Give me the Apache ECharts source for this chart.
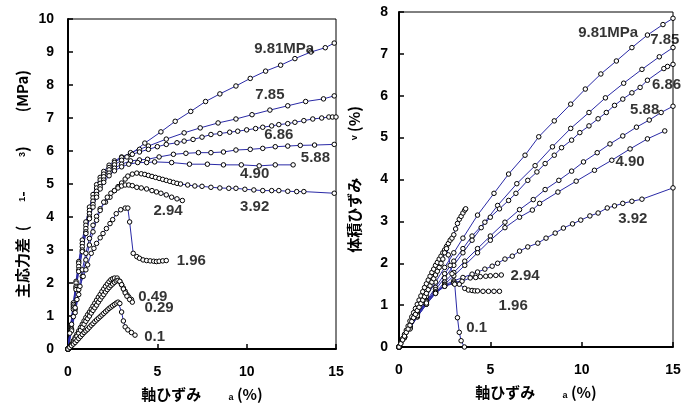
<!DOCTYPE html>
<html><head><meta charset="utf-8">
<script src="https://cdn.jsdelivr.net/npm/echarts@6/dist/echarts.min.js"></script>
<style>html,body{margin:0;padding:0;background:#fff}#c{width:690px;height:412px}</style>
</head><body><div id="c"></div>
<script>
// ---------- Left chart: deviator stress (MPa) vs axial strain (%) ----------
const s981 = [[0,0],[0.15,0.7],[0.3,1.4],[0.45,2.05],[0.6,2.65],[0.8,3.3],[1.0,3.85],[1.2,4.3],[1.4,4.68],[1.6,4.98],[1.8,5.2],[2.0,5.38],[2.3,5.57],[2.6,5.7],[3.0,5.82],[3.5,5.9],[4.3,6.24],[5.2,6.58],[6.0,6.9],[6.87,7.2],[7.7,7.5],[8.5,7.73],[9.4,7.97],[10.2,8.2],[11.06,8.42],[11.9,8.6],[12.7,8.8],[13.6,9.0],[14.4,9.13],[14.9,9.27]];
const s785 = [[0,0],[0.15,0.68],[0.3,1.35],[0.45,2.0],[0.6,2.6],[0.8,3.2],[1.0,3.75],[1.2,4.2],[1.4,4.58],[1.6,4.88],[1.8,5.12],[2.0,5.3],[2.3,5.5],[2.6,5.65],[3.0,5.8],[3.5,5.95],[4.0,6.05],[4.5,6.15],[5.5,6.36],[6.5,6.55],[7.4,6.7],[8.4,6.85],[9.4,6.97],[10.3,7.1],[11.3,7.24],[12.3,7.37],[13.3,7.5],[14.3,7.58],[14.9,7.67]];
const s686 = [[0,0],[0.15,0.65],[0.3,1.3],[0.45,1.9],[0.6,2.5],[0.8,3.1],[1.0,3.65],[1.2,4.1],[1.4,4.48],[1.6,4.78],[1.8,5.02],[2.0,5.22],[2.3,5.43],[2.6,5.58],[3.0,5.72],[3.3,5.82],[3.6,5.9],[4.0,5.97],[4.5,6.05],[5.0,6.13],[5.5,6.2],[6.1,6.25],[6.5,6.3],[7.0,6.35],[7.5,6.42],[8.0,6.5],[8.5,6.53],[9.05,6.57],[9.5,6.6],[10.0,6.64],[10.5,6.68],[10.9,6.72],[11.4,6.76],[11.8,6.8],[12.3,6.83],[12.7,6.87],[13.2,6.92],[13.7,6.97],[14.2,7.0],[14.6,7.03],[14.8,7.03],[15.0,7.03]];
const s588 = [[0,0],[0.15,0.62],[0.3,1.25],[0.45,1.85],[0.6,2.4],[0.8,3.0],[1.0,3.55],[1.2,4.0],[1.4,4.38],[1.6,4.68],[1.8,4.92],[2.0,5.12],[2.3,5.33],[2.6,5.48],[3.0,5.6],[3.5,5.7],[4.0,5.73],[4.45,5.75],[5.1,5.82],[5.9,5.9],[6.6,5.93],[7.3,5.95],[8.0,5.95],[8.7,5.97],[9.4,6.03],[10.2,6.05],[10.9,6.08],[11.6,6.13],[12.3,6.15],[13.0,6.17],[13.8,6.18],[14.9,6.2]];
const s490 = [[0,0],[0.15,0.6],[0.3,1.2],[0.45,1.8],[0.6,2.35],[0.8,2.95],[1.0,3.5],[1.2,3.95],[1.4,4.3],[1.6,4.6],[1.8,4.85],[2.0,5.05],[2.3,5.25],[2.6,5.4],[3.0,5.52],[3.4,5.6],[3.9,5.65],[4.4,5.65],[4.85,5.67],[5.8,5.65],[6.8,5.6],[7.8,5.6],[8.7,5.58],[9.7,5.58],[10.7,5.55],[11.6,5.58],[12.6,5.58]];
const s392 = [[0,0],[0.2,0.6],[0.4,1.2],[0.6,1.8],[0.8,2.4],[1.0,2.9],[1.2,3.35],[1.4,3.75],[1.6,4.02],[1.8,4.25],[2.1,4.45],[2.35,4.6],[2.6,4.8],[2.8,4.92],[3.0,5.03],[3.2,5.15],[3.35,5.24],[3.6,5.3],[3.85,5.33],[4.1,5.31],[4.3,5.29],[4.5,5.26],[4.7,5.23],[4.9,5.2],[5.1,5.17],[5.3,5.14],[5.5,5.11],[5.7,5.08],[5.9,5.05],[6.1,5.02],[6.3,5.0],[6.7,4.97],[7.1,4.94],[7.5,4.93],[8.0,4.9],[8.5,4.88],[9.0,4.87],[9.4,4.87],[9.9,4.84],[10.4,4.82],[10.9,4.8],[11.4,4.8],[11.8,4.8],[12.3,4.78],[12.8,4.77],[13.2,4.77],[14.9,4.72]];
const s294 = [[0,0],[0.2,0.55],[0.4,1.1],[0.6,1.65],[0.8,2.2],[1.0,2.7],[1.2,3.15],[1.4,3.55],[1.6,3.9],[1.8,4.2],[2.0,4.45],[2.2,4.6],[2.4,4.72],[2.6,4.8],[2.8,4.88],[3.0,4.94],[3.2,4.97],[3.4,4.97],[3.6,4.95],[3.85,4.9],[4.1,4.88],[4.4,4.85],[4.7,4.8],[4.95,4.76],[5.2,4.72],[5.5,4.67],[5.8,4.6],[6.1,4.55],[6.4,4.5]];
const s196 = [[0,0],[0.1,0.48],[0.2,0.75],[0.3,0.98],[0.4,1.25],[0.5,1.5],[0.67,1.9],[0.85,2.2],[1.0,2.4],[1.1,2.55],[1.3,2.9],[1.45,3.05],[1.6,3.2],[1.8,3.37],[1.96,3.5],[2.15,3.65],[2.35,3.8],[2.5,3.92],[2.7,4.1],[2.95,4.22],[3.2,4.27],[3.35,4.27],[3.45,3.85],[3.65,2.9],[3.85,2.8],[4.0,2.75],[4.2,2.7],[4.4,2.68],[4.6,2.67],[4.8,2.66],[4.95,2.65],[5.1,2.66],[5.3,2.67],[5.5,2.68]];
const s049 = [[0,0],[0.1,0.07],[0.2,0.15],[0.3,0.25],[0.4,0.35],[0.5,0.45],[0.6,0.55],[0.7,0.65],[0.8,0.75],[0.9,0.85],[1.0,0.95],[1.1,1.04],[1.2,1.12],[1.3,1.21],[1.4,1.3],[1.5,1.39],[1.6,1.48],[1.7,1.57],[1.8,1.65],[1.9,1.74],[2.0,1.82],[2.1,1.9],[2.2,1.97],[2.3,2.04],[2.4,2.1],[2.5,2.13],[2.6,2.15],[2.75,2.15],[2.9,2.05],[3.0,1.95],[3.1,1.85],[3.2,1.75],[3.3,1.65],[3.4,1.58],[3.55,1.5]];
const s029 = [[0,0],[0.1,0.06],[0.2,0.13],[0.3,0.21],[0.4,0.3],[0.5,0.39],[0.6,0.48],[0.7,0.57],[0.8,0.66],[0.9,0.75],[1.0,0.84],[1.1,0.92],[1.2,1.0],[1.3,1.09],[1.4,1.17],[1.5,1.25],[1.6,1.33],[1.7,1.42],[1.8,1.5],[1.9,1.58],[2.0,1.65],[2.1,1.73],[2.2,1.8],[2.3,1.86],[2.4,1.92],[2.5,1.97],[2.6,2.02],[2.7,2.06],[2.8,2.08],[2.9,2.05],[3.0,1.95],[3.1,1.82],[3.2,1.7],[3.3,1.6],[3.45,1.5],[3.6,1.42]];
const s010 = [[0,0],[0.1,0.05],[0.2,0.1],[0.3,0.15],[0.4,0.2],[0.5,0.26],[0.6,0.32],[0.7,0.38],[0.8,0.44],[0.9,0.5],[1.0,0.55],[1.1,0.6],[1.2,0.66],[1.3,0.72],[1.4,0.77],[1.5,0.83],[1.6,0.88],[1.7,0.93],[1.8,0.98],[1.9,1.03],[2.0,1.08],[2.1,1.13],[2.2,1.18],[2.3,1.23],[2.4,1.27],[2.5,1.31],[2.6,1.35],[2.7,1.39],[2.8,1.42],[2.9,1.38],[3.0,1.12],[3.1,0.85],[3.2,0.67],[3.35,0.58],[3.55,0.5],[3.75,0.42]];
const leftCurves = [s981, s785, s686, s588, s490, s392, s294, s196, s049, s029, s010];
const leftLabels = [[12.1,9.1,'9.81MPa'],[11.3,7.7,'7.85'],[11.8,6.5,'6.86'],[13.85,5.8,'5.88'],[10.45,5.3,'4.90'],[10.45,4.3,'3.92'],[5.6,4.18,'2.94'],[6.9,2.67,'1.96'],[4.75,1.58,'0.49'],[5.1,1.24,'0.29'],[4.85,0.36,'0.1']];

// ---------- Right chart: volumetric strain (%) vs axial strain (%) ----------
const v981 = [[0,0],[0.3,0.25],[0.6,0.5],[1.0,0.82],[1.5,1.2],[2.0,1.55],[2.5,1.9],[3.0,2.25],[3.5,2.6],[4.3,3.15],[5.2,3.67],[6.0,4.13],[6.9,4.58],[7.65,5.02],[8.5,5.4],[9.4,5.8],[10.2,6.16],[11.05,6.52],[11.9,6.83],[12.75,7.15],[13.6,7.45],[14.45,7.7],[15.0,7.85]];
const v785 = [[0,0],[0.3,0.25],[0.6,0.48],[1.0,0.78],[1.5,1.1],[2.0,1.42],[2.5,1.75],[3.0,2.05],[3.5,2.35],[4.0,2.65],[4.7,2.98],[5.4,3.38],[6.45,3.9],[7.45,4.33],[8.4,4.78],[9.4,5.22],[10.4,5.6],[11.3,5.95],[12.3,6.3],[13.3,6.63],[14.25,6.93],[15.0,7.15]];
const v686 = [[0,0],[0.3,0.24],[0.6,0.47],[1.0,0.76],[1.5,1.07],[2.0,1.37],[2.5,1.65],[3.0,1.95],[3.5,2.25],[4.0,2.55],[4.5,2.85],[5.0,3.1],[5.5,3.3],[6.0,3.5],[6.4,3.67],[7.05,3.98],[7.55,4.18],[8.0,4.38],[8.5,4.58],[8.9,4.76],[9.45,4.94],[9.9,5.12],[10.4,5.28],[10.9,5.45],[11.35,5.6],[11.8,5.77],[12.25,5.92],[12.75,6.07],[13.2,6.2],[13.6,6.37],[14.5,6.65],[14.7,6.7],[15.0,6.75]];
const v588 = [[0,0],[0.3,0.23],[0.6,0.45],[1.0,0.72],[1.5,1.02],[2.0,1.3],[2.5,1.55],[3.0,1.78],[3.6,2.05],[4.3,2.35],[5.0,2.65],[5.8,2.98],[6.6,3.28],[7.35,3.52],[8.0,3.76],[8.75,3.98],[9.45,4.2],[10.1,4.42],[10.85,4.64],[11.55,4.85],[12.25,5.04],[13.0,5.25],[13.7,5.42],[14.35,5.6],[15.0,5.75]];
const v490 = [[0,0],[0.3,0.23],[0.6,0.45],[1.0,0.72],[1.5,1.02],[2.0,1.28],[2.5,1.5],[3.0,1.7],[3.6,1.95],[4.3,2.25],[5.0,2.55],[5.8,2.85],[6.6,3.1],[7.3,3.27],[7.7,3.43],[8.7,3.7],[9.7,3.96],[10.7,4.22],[11.65,4.46],[12.65,4.73],[13.6,4.97],[14.55,5.16]];
const v392 = [[0,0],[0.3,0.24],[0.6,0.47],[1.0,0.78],[1.5,1.1],[2.0,1.32],[2.5,1.48],[3.0,1.58],[3.5,1.66],[4.0,1.74],[4.3,1.79],[4.7,1.86],[5.1,1.93],[5.4,2.0],[5.8,2.1],[6.2,2.17],[6.6,2.29],[7.05,2.39],[7.6,2.48],[8.05,2.6],[8.55,2.72],[9.0,2.84],[9.5,2.94],[9.95,3.03],[10.45,3.13],[10.9,3.2],[11.4,3.32],[11.8,3.37],[12.25,3.43],[12.75,3.48],[13.3,3.53],[15.0,3.8]];
const v294 = [[0,0],[0.3,0.24],[0.6,0.47],[1.0,0.78],[1.5,1.08],[2.0,1.3],[2.5,1.45],[3.0,1.55],[3.45,1.57],[3.9,1.65],[4.2,1.66],[4.45,1.68],[4.75,1.69],[5.0,1.7],[5.3,1.71],[5.6,1.72]];
const v196 = [[0,0],[0.3,0.22],[0.6,0.43],[1.0,0.75],[1.5,1.05],[2.0,1.28],[2.5,1.45],[3.0,1.52],[3.3,1.5],[3.6,1.4],[3.8,1.36],[4.0,1.35],[4.15,1.34],[4.3,1.34],[4.6,1.33],[4.9,1.33],[5.2,1.33],[5.5,1.33]];
const v049 = [[0,0],[0.1,0.1],[0.2,0.2],[0.3,0.3],[0.4,0.4],[0.5,0.5],[0.6,0.62],[0.7,0.72],[0.8,0.82],[0.9,0.92],[1.0,1.02],[1.1,1.12],[1.2,1.22],[1.3,1.32],[1.4,1.42],[1.5,1.51],[1.6,1.6],[1.7,1.69],[1.8,1.78],[1.9,1.86],[2.0,1.95],[2.1,2.02],[2.2,2.1],[2.3,2.17],[2.4,2.25],[2.5,2.32],[2.6,2.4],[2.7,2.47],[2.8,2.55],[2.9,2.6],[3.0,2.68],[3.1,2.82],[3.2,2.95],[3.3,3.05],[3.4,3.12],[3.5,3.2],[3.6,3.27],[3.65,3.3]];
const v010 = [[0,0],[0.1,0.08],[0.2,0.17],[0.3,0.26],[0.4,0.35],[0.5,0.43],[0.6,0.52],[0.7,0.61],[0.8,0.7],[0.9,0.78],[1.0,0.87],[1.1,0.95],[1.2,1.04],[1.3,1.12],[1.4,1.2],[1.5,1.28],[1.6,1.37],[1.7,1.46],[1.8,1.55],[1.9,1.63],[2.0,1.72],[2.1,1.81],[2.2,1.9],[2.3,2.0],[2.4,2.1],[2.5,2.25],[2.6,2.35],[2.7,2.2],[2.8,1.95],[2.9,1.75],[3.05,1.5],[3.2,0.7],[3.3,0.35],[3.4,0.15],[3.58,0]];
const rightCurves = [v981, v785, v686, v588, v490, v392, v294, v196, v049, v010];
const rightLabels = [[11.45,7.5,'9.81MPa'],[14.55,7.33,'7.85'],[14.65,6.25,'6.86'],[13.45,5.67,'5.88'],[12.65,4.42,'4.90'],[12.8,3.05,'3.92'],[6.9,1.7,'2.94'],[6.25,0.98,'1.96'],[4.25,0.45,'0.1']];

const xTicksMax = 15, xInterval = 5;
const leftYMax = 10, rightYMax = 8;

// ---------- build ----------
const FONT = 'Liberation Sans, Arial, Noto Sans CJK JP, sans-serif';
const LINE = '#2a2aa6';
function curve(g, data) {
  return {type:'line', xAxisIndex:g, yAxisIndex:g, data:data, symbol:'circle', symbolSize:4.5,
    showSymbol:true, showAllSymbol:true, animation:false, clip:true, z:3,
    itemStyle:{color:'#fff', borderColor:'#000', borderWidth:1},
    lineStyle:{color:LINE, width:1}, emphasis:{disabled:true}};
}
function labels(g, data) {
  return {type:'scatter', xAxisIndex:g, yAxisIndex:g, data:data, symbolSize:0, animation:false, z:5,
    label:{show:true, position:'inside', formatter:p=>p.data[2], color:'#000',
      fontFamily:FONT, fontWeight:'bold', fontSize:15}, emphasis:{disabled:true}};
}
function xAx(g, gap) {
  return {gridIndex:g, type:'value', min:0, max:xTicksMax, interval:xInterval,
    axisLine:{show:true, onZero:false, lineStyle:{color:'#000', width:2}},
    axisTick:{show:true, inside:true, length:5, lineStyle:{color:'#000', width:1.5}},
    axisLabel:{color:'#000', fontFamily:FONT, fontWeight:'bold', fontSize:14, margin:16},
    splitLine:{show:false},
    name:'軸ひずみ        {s|a} (%)', nameLocation:'middle', nameGap:gap,
    nameTextStyle:{color:'#000', fontFamily:'Noto Sans CJK JP, sans-serif', fontWeight:'bold', fontSize:15,
      rich:{s:{fontSize:9, fontWeight:'bold', fontFamily:FONT, verticalAlign:'bottom', padding:[6,0,0,0]}}}};
}
function yAx(g, max, name, gap, margin) {
  return {gridIndex:g, type:'value', min:0, max:max, interval:1,
    axisLine:{show:true, onZero:false, lineStyle:{color:'#000', width:2}},
    axisTick:{show:true, inside:true, length:5, lineStyle:{color:'#000', width:1.5}},
    axisLabel:{color:'#000', fontFamily:FONT, fontWeight:'bold', fontSize:14, margin:margin},
    splitLine:{show:false},
    name:name, nameLocation:'middle', nameGap:gap, nameRotate:90,
    nameTextStyle:{color:'#000', fontFamily:'Noto Sans CJK JP, sans-serif', fontWeight:'bold', fontSize:15,
      rich:{s:{fontSize:9, fontWeight:'bold', fontFamily:FONT}}}};
}

const series = [];
leftCurves.forEach(d => series.push(curve(0, d)));
rightCurves.forEach(d => series.push(curve(1, d)));
series.push(labels(0, leftLabels));
series.push(labels(1, rightLabels));

const chart = echarts.init(document.getElementById('c'), null, {renderer:'canvas'});
chart.setOption({
  backgroundColor:'#fff',
  animation:false,
  grid:[
    {left:68, top:19, width:268, height:330, show:true, borderColor:'#000', borderWidth:1, backgroundColor:'transparent'},
    {left:399, top:12, width:274, height:335, show:true, borderColor:'#000', borderWidth:1, backgroundColor:'transparent'}
  ],
  xAxis:[xAx(0, 38), xAx(1, 38)],
  yAxis:[
    yAx(0, leftYMax, '主応力差  (       {s|1}-          {s|3})          (MPa)', 38, 14),
    yAx(1, rightYMax, '体積ひずみ           {s|v} (%)', 37, 11)
  ],
  series:series
});
</script></body></html>
